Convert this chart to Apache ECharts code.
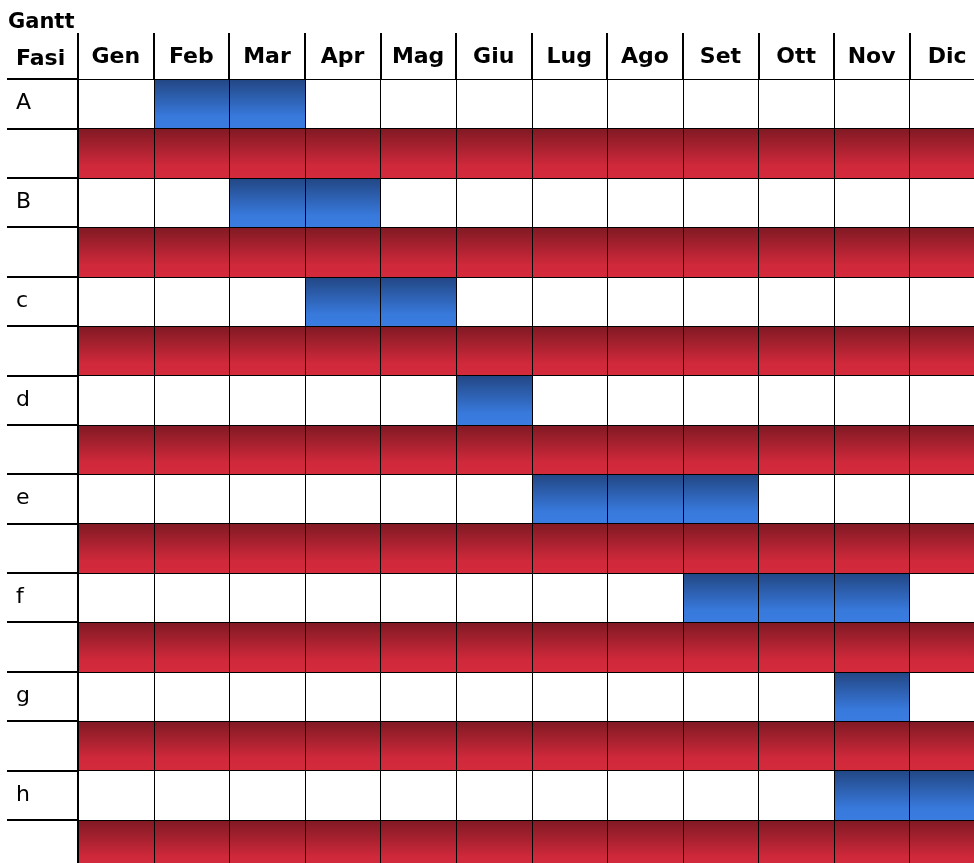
<!DOCTYPE html>
<html>
<head>
<meta charset="utf-8">
<script src="https://cdn.jsdelivr.net/npm/echarts@6/dist/echarts.min.js"></script>
<style>
    html, body { margin: 0; padding: 0; overflow: hidden; background: #fff; }
    #gantt-chart { width: 990px; height: 880px; }
</style>
</head>
<body>
<div id="gantt-chart"></div>
<script type="text/javascript">
    // mesi e fasi
    var months = ['Gen', 'Feb', 'Mar', 'Apr', 'Mag', 'Giu', 'Lug', 'Ago', 'Set', 'Ott', 'Nov', 'Dic'];
    var phases = ['A', 'B', 'c', 'd', 'e', 'f', 'g', 'h'];
    // primo e ultimo mese (indice) di ogni fase
    var phaseStart = [1, 2, 3, 5, 6, 8, 10, 10];
    var phaseEnd = [2, 3, 4, 5, 8, 10, 10, 11];

    // ogni fase ha la sua riga, seguita da una riga tutta rossa
    var rows = [];
    phases.forEach(function (p) {
        rows.push(p);
        rows.push('');
    });

    // [mese, riga, tipo] tipo: 0 vuoto, 1 fase, 2 riga rossa
    var cells = [];
    for (var r = 0; r < rows.length; r++) {
        var k = Math.floor(r / 2);
        for (var m = 0; m < months.length; m++) {
            var kind;
            if (r % 2 == 1) kind = 2;
            else kind = (m >= phaseStart[k] && m <= phaseEnd[k]) ? 1 : 0;
            cells.push([m, r, kind]);
        }
    }

    var fills = [
        '#ffffff',
        new echarts.graphic.LinearGradient(0, 0, 0, 1, [
            {offset: 0, color: '#224683'},
            {offset: 0.75, color: '#3879dc'},
            {offset: 1, color: '#3a7ce0'}
        ]),
        new echarts.graphic.LinearGradient(0, 0, 0, 1, [
            {offset: 0, color: '#7f1923'},
            {offset: 0.75, color: '#d0293b'},
            {offset: 1, color: '#d42a3c'}
        ])
    ];

    function renderCell(params, api) {
        var p = api.coord([api.value(0), api.value(1)]);
        var s = api.size([1, 1]);
        var x0 = Math.round(p[0] - s[0] / 2) + 0.5;
        var x1 = Math.round(p[0] + s[0] / 2) + 0.5;
        var y0 = Math.round(p[1] - s[1] / 2) + 0.5;
        var y1 = Math.round(p[1] + s[1] / 2) + 0.5;
        return {
            type: 'rect',
            shape: {x: x0, y: y0, width: x1 - x0, height: y1 - y0},
            style: {fill: fills[api.value(2)], stroke: '#000', lineWidth: 1}
        };
    }

    var myChart = echarts.init(document.getElementById('gantt-chart'));

    var option = {
        animation: false,
        textStyle: {fontFamily: 'DejaVu Sans', color: '#000'},
        title: [
            {text: 'Gantt', left: 8, top: 12, padding: 0, textStyle: {fontSize: 21, fontWeight: 'bold', color: '#000', fontFamily: 'DejaVu Sans'}},
            {text: 'Fasi', left: 16, top: 48, padding: 0, textStyle: {fontSize: 22, fontWeight: 'bold', color: '#000', fontFamily: 'DejaVu Sans'}}
        ],
        grid: {left: 78, top: 79, width: 907, height: 790},
        xAxis: {
            type: 'category',
            position: 'top',
            data: months,
            z: 10,
            axisLine: {show: true, lineStyle: {color: '#000', width: 1}},
            axisTick: {show: true, interval: 0, length: 46, lineStyle: {color: '#000', width: 2}},
            axisLabel: {interval: 0, margin: 11, fontSize: 22, fontWeight: 'bold', color: '#000', fontFamily: 'DejaVu Sans'},
            splitLine: {show: false}
        },
        yAxis: {
            type: 'category',
            inverse: true,
            data: rows,
            z: 10,
            axisLine: {show: true, lineStyle: {color: '#000', width: 2}},
            axisTick: {show: true, interval: 0, length: 71, lineStyle: {color: '#000', width: 2}},
            axisLabel: {interval: 0, margin: 62, align: 'left', padding: [4, 0, 0, 0], fontSize: 22, color: '#000', fontFamily: 'DejaVu Sans'},
            splitLine: {show: false}
        },
        series: [
            {
                type: 'custom',
                coordinateSystem: 'cartesian2d',
                renderItem: renderCell,
                encode: {x: 0, y: 1},
                data: cells,
                silent: true
            }
        ]
    };

    myChart.setOption(option);
</script>
</body>
</html>
